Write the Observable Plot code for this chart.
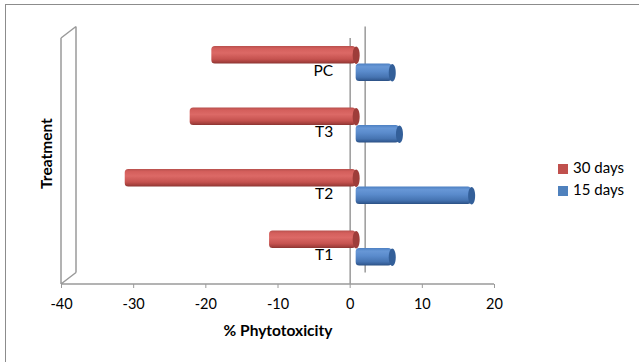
<!DOCTYPE html>
<html>
<head>
<meta charset="utf-8">
<script src="https://cdn.jsdelivr.net/npm/d3@7"></script>
<script src="https://cdn.jsdelivr.net/npm/@observablehq/plot@0.6"></script>
<style>
  html, body { margin: 0; padding: 0; background: #fff; overflow: hidden; }
  #wrap { position: relative; width: 639px; height: 362px; font-family: Lato, "Open Sans", sans-serif; }
  #border { position: absolute; left: 5px; top: 4px; width: 700px; height: 400px; border: 1px solid #8c8c8c; box-sizing: border-box; pointer-events: none; }
  #chart { position: absolute; left: 0; top: 0; }
  .leg { position: absolute; left: 558px; font-size: 15px; color: #000; line-height: 1; white-space: nowrap; }
  .leg span.sw { display: inline-block; width: 10px; height: 10px; margin-right: 5px; vertical-align: -1px; }
</style>
</head>
<body>
<div id="wrap">
  <div id="chart"></div>
  <div id="border"></div>
  <div id="legend"></div>
</div>
<script>
const categories = ["PC", "T3", "T2", "T1"];
const days30 = [-20, -23, -32, -12];
const days15 = [5, 6, 16, 5];
const seriesNames = ["30 days", "15 days"];
const seriesColors = ["#C0504D", "#4F81BD"];
const xTicks = [-40, -30, -20, -10, 0, 10, 20];

const data = categories.map((c, i) => ({cat: c, v30: days30[i], v15: days15[i]}));

const k = 0.5523;
const ellipse = {
  draw(ctx) {
    const rx = 3.5, ry = 8.75;
    ctx.moveTo(rx, 0);
    ctx.bezierCurveTo(rx, ry * k, rx * k, ry, 0, ry);
    ctx.bezierCurveTo(-rx * k, ry, -rx, ry * k, -rx, 0);
    ctx.bezierCurveTo(-rx, -ry * k, -rx * k, -ry, 0, -ry);
    ctx.bezierCurveTo(rx * k, -ry, rx, -ry * k, rx, 0);
    ctx.closePath();
  }
};

const DX = 15, DY = -11.5;
function wall(index, scales, values, dimensions) {
  const x = scales.x;
  const xl = x(-40), xr = x(20);
  const t = dimensions.marginTop, b = dimensions.height - dimensions.marginBottom;
  const g = d3.create("svg:g");
  g.append("path")
    .attr("fill", "none")
    .attr("stroke", "#9a9a9a")
    .attr("stroke-width", 1.5)
    .attr("d", `M${xl},${t}L${xl},${b}M${xl + DX},${t + DY}L${xl + DX},${b + DY}M${xl},${t}L${xl + DX},${t + DY}M${xl},${b}L${xl + DX},${b + DY}M${xl},${b}L${xr},${b}`);
  return g.node();
}

const barOpts = {insetTop: 22, insetBottom: 22, dx: 6, rx: 3.5};

const plot = Plot.plot({
  width: 639,
  height: 362,
  marginLeft: 61,
  marginRight: 145,
  marginTop: 38,
  marginBottom: 78,
  style: {fontFamily: "Lato, 'Open Sans', sans-serif", background: "transparent"},
  x: {domain: [-40, 20]},
  y: {type: "band", domain: categories, range: [32.75, 278.75], padding: 0, round: false, axis: null},
  marks: [
    wall,
    Plot.ruleX([0], {stroke: "#9a9a9a", strokeWidth: 1.5}),
    Plot.ruleX([0], {stroke: "#9a9a9a", strokeWidth: 1.5, dx: DX, dy: DY}),
    Plot.barX(data, {y: "cat", x1: 0, x2: "v30", dy: -8.75, fill: "url(#gRed)", ...barOpts}),
    Plot.dot(data, {y: "cat", x: () => 0, dy: -8.75, dx: 6, symbol: ellipse, fill: "#9e3d3a", stroke: "none"}),
    Plot.barX(data, {y: "cat", x1: 0, x2: "v15", dy: 8.75, fill: "url(#gBlue)", ...barOpts}),
    Plot.dot(data, {y: "cat", x: "v15", dy: 8.75, dx: 6, symbol: ellipse, fill: "#335f99", stroke: "none"}),
    Plot.text(data, {y: "cat", x: () => 0, text: "cat", textAnchor: "end", dx: -17, dy: 7, fontSize: 15.5, fill: "#000"}),
    Plot.axisX({ticks: xTicks, tickSize: 4, tickPadding: 10, stroke: "#9a9a9a", fontSize: 14.5, fill: "#000", label: null, tickFormat: d => String(d)}),
    Plot.text(["% Phytotoxicity"], {frameAnchor: "bottom", dy: 46.5, fontSize: 15.5, fontWeight: "bold", fill: "#000", lineAnchor: "middle", textAnchor: "middle"}),
    Plot.text(["Treatment"], {frameAnchor: "left", dx: -14, dy: -8, rotate: -90, fontSize: 15.5, fontWeight: "bold", fill: "#000", lineAnchor: "middle", textAnchor: "middle"})
  ]
});

const svg = d3.select(plot);
const defs = svg.insert("defs", ":first-child");
function grad(id, stops) {
  const lg = defs.append("linearGradient").attr("id", id).attr("x1", 0).attr("y1", 0).attr("x2", 0).attr("y2", 1);
  stops.forEach(([o, c]) => lg.append("stop").attr("offset", o).attr("stop-color", c));
}
grad("gRed", [[0, "#b8504d"], [0.15, "#d45f5c"], [0.4, "#dc6966"], [0.75, "#c5524f"], [0.92, "#a33f3c"], [1, "#8a3431"]]);
grad("gBlue", [[0, "#4d80c2"], [0.18, "#6797d6"], [0.45, "#5a8bcc"], [0.78, "#4674b2"], [0.92, "#365f98"], [1, "#2a4f82"]]);

document.getElementById("chart").appendChild(plot);

const legend = document.getElementById("legend");
seriesNames.forEach((name, i) => {
  const d = document.createElement("div");
  d.className = "leg";
  d.style.top = (160 + i * 22) + "px";
  d.innerHTML = `<span class="sw" style="background:${seriesColors[i]}"></span>${name}`;
  legend.appendChild(d);
});
</script>
</body>
</html>
